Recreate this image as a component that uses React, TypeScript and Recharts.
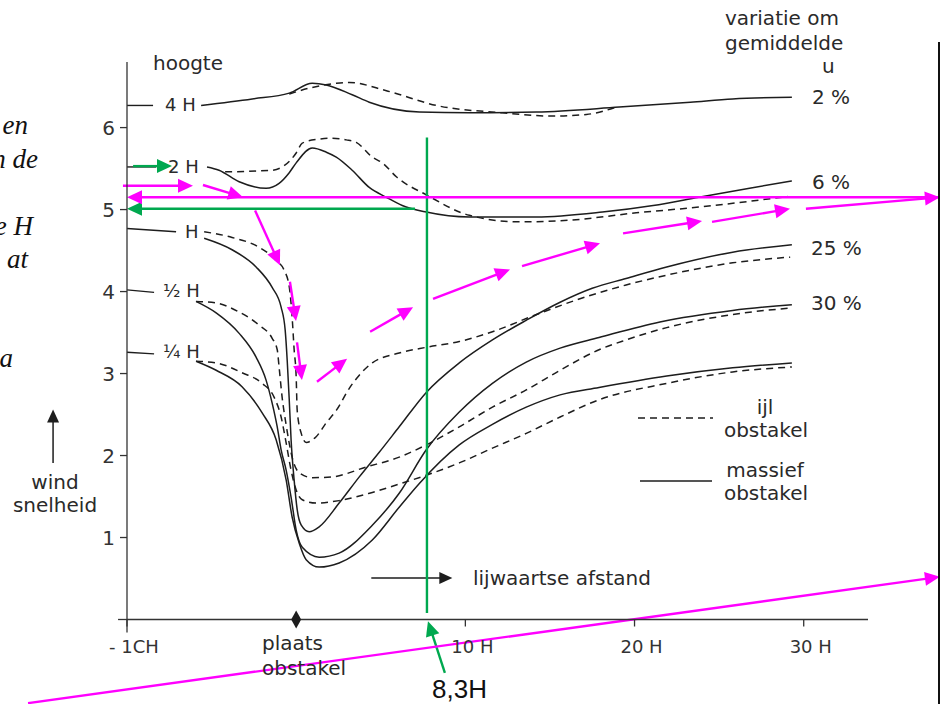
import React from "react";
import { LineChart, Line, XAxis, YAxis, ReferenceLine, ReferenceDot } from "recharts";

// windsnelheid achter een obstakel, x in obstakelhoogtes H, y in snelheid
type Pt = { x: number; y: number };
const pts = (a: number[][]): Pt[] => a.map(([x, y]) => ({ x, y }));

const xTicks = [-10, 10, 20, 30];
const xTickLabels = ["- 1CH", "10 H", "20 H", "30 H"];
const yTicks = [1, 2, 3, 4, 5, 6];

// massief = doorgetrokken, ijl = gestreept
const h4Massief = pts([[-5.62, 6.27], [-2.6, 6.35], [-0.41, 6.42], [0.95, 6.54], [1.78, 6.52], [3.31, 6.4], [4.32, 6.31], [7.28, 6.19], [10.24, 6.18], [14.2, 6.19], [19.1, 6.25], [23.3, 6.31], [25.8, 6.35], [29.3, 6.37]]);
const h4Ijl = pts([[-0.41, 6.41], [0.95, 6.49], [2.37, 6.54], [3.14, 6.55], [5.33, 6.45], [8.28, 6.27], [12.19, 6.18], [15.15, 6.14], [17.16, 6.16], [18.93, 6.25]]);

const h2Massief = pts([[-5.27, 5.52], [-4.56, 5.48], [-3.37, 5.34], [-1.78, 5.26], [-1.01, 5.32], [-0.41, 5.45], [0, 5.57], [0.95, 5.75], [1.78, 5.7], [2.37, 5.64], [3.31, 5.48], [4.32, 5.27], [5.33, 5.15], [6.27, 5.05], [7.69, 4.97], [10.24, 4.91], [14.2, 4.91], [18.1, 4.97], [21.1, 5.05], [23.8, 5.15], [26.8, 5.26], [29.3, 5.35]]);
const h2Ijl = pts([[-4.2, 5.46], [-1.42, 5.48], [0, 5.69], [0.36, 5.81], [1.36, 5.86], [1.95, 5.87], [2.96, 5.85], [3.55, 5.82], [4.5, 5.64], [5.09, 5.57], [5.92, 5.4], [7.69, 5.18], [10.24, 4.93], [13.2, 4.85], [16.15, 4.87], [20.1, 4.96], [23.8, 5.03], [29.05, 5.16]]);

const hMassief = pts([[-5.44, 4.65], [-3.79, 4.51], [-2.37, 4.3], [-1.42, 4.05], [-0.89, 3.81], [-0.65, 3.53], [-0.53, 3.16], [-0.41, 2.68], [-0.3, 2.19], [-0.12, 1.7], [0.06, 1.34], [0.3, 1.15], [0.77, 1.07], [1.36, 1.13], [2.54, 1.42], [3.73, 1.74], [4.91, 2.04], [6.09, 2.35], [7.69, 2.77], [9.64, 3.13], [11.6, 3.41], [13.6, 3.65], [15.6, 3.87], [17.5, 4.04], [19.5, 4.16], [21.9, 4.3], [25.8, 4.48], [29.3, 4.57]]);
const hIjl = pts([[-5.44, 4.73], [-3.79, 4.66], [-2.19, 4.54], [-1.18, 4.38], [-0.71, 4.26], [-0.41, 4.06], [-0.24, 3.69], [-0.12, 3.29], [0, 2.96], [0.06, 2.55], [0.3, 2.27], [0.59, 2.16], [1.18, 2.23], [1.78, 2.4], [2.37, 2.55], [3.14, 2.82], [3.73, 2.98], [4.5, 3.13], [6.09, 3.25], [7.69, 3.32], [9.64, 3.39], [11.6, 3.51], [14.2, 3.72], [16.6, 3.9], [19.5, 4.08], [21.9, 4.2], [25.8, 4.35], [29.2, 4.42]]);

const halfMassief = pts([[-5.92, 3.88], [-4.73, 3.74], [-3.37, 3.49], [-2.37, 3.2], [-1.78, 2.92], [-1.42, 2.64], [-1.12, 2.35], [-0.89, 2.07], [-0.59, 1.82], [-0.3, 1.49], [0, 1.09], [0.36, 0.88], [1.36, 0.76], [2.54, 0.81], [4.5, 1.15], [6.09, 1.54], [7.69, 2.07], [9.64, 2.53], [11.6, 2.88], [13.6, 3.14], [15.6, 3.31], [17.9, 3.44], [21.5, 3.63], [25.8, 3.77], [29.3, 3.84]]);
const halfIjl = pts([[-5.92, 3.88], [-4.73, 3.86], [-3.37, 3.75], [-2.19, 3.59], [-1.42, 3.43], [-1.12, 3.29], [-1.01, 3.08], [-0.83, 2.71], [-0.59, 2.37], [-0.24, 1.98], [0.18, 1.79], [0.95, 1.73], [2.13, 1.74], [4.14, 1.86], [6.09, 1.98], [7.69, 2.13], [9.64, 2.35], [11.6, 2.59], [13.6, 2.8], [15.6, 3.04], [17.9, 3.29], [19.5, 3.41], [21.9, 3.56], [25.8, 3.72], [29.3, 3.8]]);

const quarterMassief = pts([[-5.92, 3.15], [-4.73, 3.04], [-3.2, 2.84], [-2.01, 2.52], [-1.18, 2.19], [-0.59, 1.7], [-0.24, 1.25], [0.18, 0.93], [0.59, 0.73], [1.36, 0.64], [2.54, 0.69], [4.5, 0.97], [6.09, 1.37], [7.28, 1.66], [9.64, 2.13], [11.6, 2.38], [13.6, 2.59], [15.6, 2.74], [17.9, 2.83], [21.9, 2.97], [25.8, 3.07], [29.3, 3.13]]);
const quarterIjl = pts([[-5.92, 3.15], [-4.73, 3.13], [-3.2, 3.01], [-2.01, 2.88], [-1.3, 2.71], [-0.89, 2.47], [-0.59, 2.15], [-0.3, 1.82], [0, 1.58], [0.36, 1.46], [1.18, 1.42], [2.54, 1.45], [4.5, 1.55], [6.51, 1.68], [7.69, 1.76], [9.64, 1.91], [11.6, 2.09], [13.6, 2.27], [15.6, 2.47], [17.9, 2.68], [21.9, 2.88], [25.8, 3.02], [29.3, 3.08]]);

// streepjes van de as naar de hoogte-labels
const leaders = [
  pts([[-10, 6.27], [-8.46, 6.27]]),
  pts([[-10, 5.52], [-8.28, 5.52]]),
  pts([[-10, 4.77], [-7.1, 4.73]]),
  pts([[-10, 4.02], [-8.4, 3.99]]),
  pts([[-10, 3.26], [-8.4, 3.24]]),
];

// [x1, y1, x2, y2, kop]
const magentaArrows = [
  [-10.24, 5.29, -6.1, 5.29, 1],
  [-5.51, 5.3, -3.14, 5.15, 1],
  [-2.43, 4.99, -0.96, 4.32, 1],
  [-0.37, 4.12, -0.01, 3.64, 1],
  [0.05, 3.38, 0.34, 2.92, 1],
  [1.23, 2.9, 3.01, 3.18, 1],
  [4.37, 3.51, 6.91, 3.81, 1],
  [8.09, 3.91, 12.64, 4.27, 1],
  [13.35, 4.31, 17.96, 4.59, 1],
  [19.32, 4.71, 23.99, 4.86, 1],
  [24.58, 4.85, 29.19, 5.01, 1],
  [30.13, 5.01, 38.05, 5.15, 1],
  [38.05, 5.15, -10, 5.15, 1],
  [-15.85, -1.02, 38.05, 0.52, 1],
];
const greenArrows = [
  [-9.64, 5.53, -7.34, 5.53, 1],
  [7.02, 5.01, -10, 5.01, 1],
  [7.73, 5.88, 7.73, 0.08, 0],
  [8.79, -0.65, 7.79, -0.02, 1],
];
const blackArrows = [
  [4.44, 0.506, 9.23, 0.506, 1],
  [-14.37, 1.91, -14.37, 2.56, 1],
];

const INK = "#1d1d1d";
const MAGENTA = "#ff00ff";
const GREEN = "#00a84f";
const FONT = '"DejaVu Sans", sans-serif';

function arrowShape(color: string, width: number, head: boolean, len = 15, hw = 7) {
  return (p: any) => {
    const { x1, y1, x2, y2 } = p;
    const dx = x2 - x1;
    const dy = y2 - y1;
    const d = Math.hypot(dx, dy) || 1;
    const ux = dx / d;
    const uy = dy / d;
    const bx = x2 - ux * len;
    const by = y2 - uy * len;
    const tri = `${x2},${y2} ${bx - uy * hw},${by + ux * hw} ${bx + uy * hw},${by - ux * hw}`;
    return (
      <g>
        <line x1={x1} y1={y1} x2={head ? bx + ux * 2 : x2} y2={head ? by + uy * 2 : y2} stroke={color} strokeWidth={width} />
        {head && <polygon points={tri} fill={color} />}
      </g>
    );
  };
}

const texts: { t: string; x: number; y: number; a?: string; size?: number; font?: string; italic?: boolean }[] = [
  { t: "hoogte", x: 153, y: 63 },
  { t: "4 H", x: 165, y: 105, size: 18 },
  { t: "2 H", x: 168, y: 167, size: 18 },
  { t: "H", x: 185, y: 232, size: 18 },
  { t: "½ H", x: 163, y: 291, size: 18 },
  { t: "¼ H", x: 163, y: 352, size: 18 },
  { t: "variatie om", x: 725, y: 18 },
  { t: "gemiddelde", x: 725, y: 43 },
  { t: "u", x: 822, y: 66 },
  { t: "2 %", x: 812, y: 97 },
  { t: "6 %", x: 812, y: 182 },
  { t: "25 %", x: 811, y: 248 },
  { t: "30 %", x: 811, y: 303 },
  { t: "ijl", x: 765, y: 407, a: "middle" },
  { t: "obstakel", x: 766, y: 430, a: "middle" },
  { t: "massief", x: 765, y: 470, a: "middle" },
  { t: "obstakel", x: 766, y: 493, a: "middle" },
  { t: "lijwaartse afstand", x: 473, y: 578 },
  { t: "wind", x: 55, y: 482, a: "middle" },
  { t: "snelheid", x: 55, y: 505, a: "middle" },
  { t: "plaats", x: 262, y: 643 },
  { t: "obstakel", x: 262, y: 668 },
  { t: "8,3H", x: 432, y: 689, size: 26, font: '"Liberation Sans", Arial, sans-serif' },
  { t: "en", x: 28, y: 125, a: "end", size: 27, font: '"Liberation Serif", serif', italic: true },
  { t: "n de", x: 38, y: 159, a: "end", size: 27, font: '"Liberation Serif", serif', italic: true },
  { t: "e H", x: 33, y: 226, a: "end", size: 27, font: '"Liberation Serif", serif', italic: true },
  { t: "at", x: 28, y: 259, a: "end", size: 27, font: '"Liberation Serif", serif', italic: true },
  { t: "a", x: 13, y: 358, a: "end", size: 27, font: '"Liberation Serif", serif', italic: true },
];

const seg = (r: number[]) => [{ x: r[0], y: r[1] }, { x: r[2], y: r[3] }];

export default function App() {
  const curves = [
    { d: h4Massief, dash: false }, { d: h4Ijl, dash: true },
    { d: h2Massief, dash: false }, { d: h2Ijl, dash: true },
    { d: hMassief, dash: false }, { d: hIjl, dash: true },
    { d: halfMassief, dash: false }, { d: halfIjl, dash: true },
    { d: quarterMassief, dash: false }, { d: quarterIjl, dash: true },
  ];

  return (
    <div style={{ position: "absolute", left: 0, top: 0, width: 944, height: 704, overflow: "hidden", background: "#fff", fontFamily: FONT, color: "#222" }}>
      <LineChart width={944} height={704} margin={{ top: 62, right: 76, bottom: 44.5, left: 67 }}>
        <XAxis
          type="number"
          dataKey="x"
          domain={[-10, 33.8]}
          ticks={xTicks}
          tickFormatter={(v: number) => xTickLabels[xTicks.indexOf(v)]}
          height={40}
          tickSize={7}
          tickMargin={14}
          tick={{ fill: "#333", fontSize: 18, fontFamily: FONT, dx: 7 }}
          axisLine={{ stroke: "#333", strokeWidth: 1.3 }}
          tickLine={{ stroke: "#333", strokeWidth: 1.3 }}
        />
        <YAxis
          type="number"
          dataKey="y"
          domain={[0, 6.8]}
          ticks={yTicks}
          width={60}
          tickSize={7}
          tickMargin={5}
          tick={{ fill: "#333", fontSize: 20, fontFamily: FONT }}
          axisLine={{ stroke: "#333", strokeWidth: 1.3 }}
          tickLine={{ stroke: "#333", strokeWidth: 1.3 }}
        />
        <ReferenceLine segment={[{ x: -10, y: 0 }, { x: -10, y: -0.16 }]} ifOverflow="visible" stroke="#333" strokeWidth={1.3} />
        <ReferenceLine segment={[{ x: -10.53, y: 0 }, { x: -10, y: 0 }]} ifOverflow="visible" stroke="#333" strokeWidth={1.3} />

        {leaders.map((d, i) => (
          <Line key={"l" + i} data={d} dataKey="y" type="linear" stroke={INK} strokeWidth={1.4} dot={false} activeDot={false} isAnimationActive={false} />
        ))}
        {curves.map((c, i) => (
          <Line
            key={"c" + i}
            data={c.d}
            dataKey="y"
            type="monotone"
            stroke={INK}
            strokeWidth={1.5}
            strokeDasharray={c.dash ? "7 5" : undefined}
            dot={false}
            activeDot={false}
            isAnimationActive={false}
          />
        ))}

        <ReferenceDot
          x={0}
          y={0}
          r={0}
          ifOverflow="visible"
          shape={(p: any) => (
            <polygon points={`${p.cx},${p.cy - 9} ${p.cx + 5},${p.cy} ${p.cx},${p.cy + 9} ${p.cx - 5},${p.cy}`} fill={INK} />
          )}
        />

        {blackArrows.map((r, i) => (
          <ReferenceLine key={"b" + i} segment={seg(r)} ifOverflow="visible" shape={arrowShape(INK, 1.5, !!r[4], 13, 6)} />
        ))}
        {greenArrows.map((r, i) => (
          <ReferenceLine key={"g" + i} segment={seg(r)} ifOverflow="visible" shape={arrowShape(GREEN, 2.4, !!r[4])} />
        ))}
        {magentaArrows.map((r, i) => (
          <ReferenceLine key={"m" + i} segment={seg(r)} ifOverflow="visible" shape={arrowShape(MAGENTA, 2.4, !!r[4])} />
        ))}
      </LineChart>

      {/* legenda */}
      <svg style={{ position: "absolute", left: 0, top: 0, pointerEvents: "none" }} width={944} height={704}>
        <line x1={638} y1={418} x2={713} y2={418} stroke={INK} strokeWidth={1.5} strokeDasharray="7 5" />
        <line x1={640} y1={481} x2={712} y2={481} stroke={INK} strokeWidth={1.5} />
        <line x1={939} y1={42} x2={939} y2={704} stroke="#111" strokeWidth={2} />
      </svg>

      {texts.map((s, i) => (
        <div
          key={i}
          style={{
            position: "absolute",
            left: s.x,
            top: s.y,
            transform: `translate(${s.a === "middle" ? "-50%" : s.a === "end" ? "-100%" : "0"}, -50%)`,
            fontSize: s.size ?? 20,
            fontFamily: s.font ?? FONT,
            fontStyle: s.italic ? "italic" : "normal",
            lineHeight: 1,
            whiteSpace: "nowrap",
            color: s.font ? "#111" : "#2a2a2a",
          }}
        >
          {s.t}
        </div>
      ))}
    </div>
  );
}
